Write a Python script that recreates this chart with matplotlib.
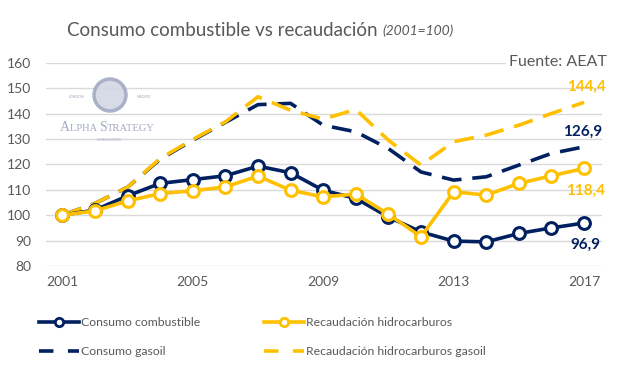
import matplotlib
matplotlib.use("Agg")
import matplotlib.pyplot as plt
from matplotlib.lines import Line2D
from matplotlib.patches import Ellipse

years = list(range(2001, 2018))
consumo_combustible = [100, 102, 107.6, 112.5, 114, 115.5, 119.3, 116.7, 109.8, 106.6,
                       99.3, 93.4, 89.8, 89.5, 92.8, 95, 96.9]
recaudacion_hidro = [100, 101.7, 105.6, 108.5, 109.6, 111.1, 115.4, 109.8, 107.2, 108.3,
                     100.4, 91.5, 109.2, 107.9, 112.5, 115.5, 118.4]
consumo_gasoil = [100, 104.6, 111, 122, 129.5, 136.5, 143.5, 144, 135.4, 132.8,
                  126.2, 117, 113.8, 115.1, 119.7, 124.3, 126.9]
recaudacion_gasoil = [100, 104.6, 111, 122.3, 129.8, 136.7, 146.6, 141.3, 137.8, 141.6,
                      129.5, 119.7, 128.9, 131.5, 135.4, 140, 144.4]
xticks = [2001, 2005, 2009, 2013, 2017]
yticks = [80, 90, 100, 110, 120, 130, 140, 150, 160]

NAVY = "#002060"
GOLD = "#FFC000"
GRAY = "#595959"
FONT = "Lato"
plt.rcParams["font.family"] = [FONT, "DejaVu Sans"]

W, H = 620, 369
fig = plt.figure(figsize=(6.2, 3.69), dpi=100)
ax = fig.add_axes([46/W, 1-266/H, (602-46)/W, (266-62.7)/H])
ax.set_xlim(2000.5, 2017.55)
ax.set_ylim(80, 160)

for y in yticks:
    ax.axhline(y, color="#d9d9d9", lw=1.0, zorder=0)

dash = (5.5, 3)
ax.plot(years, consumo_gasoil, color=NAVY, lw=2.6, dashes=dash, zorder=2)
ax.plot(years, recaudacion_gasoil, color=GOLD, lw=2.6, dashes=dash, zorder=2)
mk = dict(marker="o", markersize=8.5, markerfacecolor="white", markeredgewidth=2.2)
ax.plot(years, consumo_combustible, color=NAVY, lw=2.6, markeredgecolor=NAVY, zorder=3, **mk)
ax.plot(years, recaudacion_hidro, color=GOLD, lw=2.6, markeredgecolor=GOLD, zorder=4, **mk)

for s in ax.spines.values():
    s.set_visible(False)
ax.set_xticks(xticks)
ax.set_xticklabels([str(x) for x in xticks])
ax.set_yticks(yticks)
ax.tick_params(axis="y", length=0, labelsize=10, colors=GRAY, pad=10.5)
ax.tick_params(axis="x", length=0, labelsize=10, colors=GRAY, pad=7)

# end value labels
lab = dict(ha="center", va="center", fontsize=11, fontweight="bold", textcoords="offset points")
ax.annotate("144,4", (years[-1], recaudacion_gasoil[-1]), xytext=(2, 11), color=GOLD, **lab)
ax.annotate("126,9", (years[-1], consumo_gasoil[-1]), xytext=(-1, 11), color=NAVY, **lab)
ax.annotate("118,4", (years[-1], recaudacion_hidro[-1]), xytext=(1, -16), color=GOLD, **lab)
ax.annotate("96,9", (years[-1], consumo_combustible[-1]), xytext=(1, -16), color=NAVY, **lab)

# source
fig.text(607/W, 1-62/H, "Fuente: AEAT", ha="right", va="center", fontsize=11.5, color=GRAY,
         bbox=dict(facecolor="white", edgecolor="none", pad=2))

# title
t = fig.text(67/W, 1-30/H, "Consumo combustible vs recaudación ", ha="left", va="center",
             fontsize=13.5, color=GRAY)
fig.canvas.draw()
bb = t.get_window_extent()
fig.text(bb.x1/W, 1-31/H, "(2001=100)", ha="left", va="center", fontsize=10,
         color=GRAY, style="italic")

# watermark
logo_c = "#a3aac3"
fig.patches.append(Ellipse((110/W, 1-95/H), 32/W, 32/H, transform=fig.transFigure,
                           facecolor="#d3d7e3", edgecolor=logo_c, lw=2.5, alpha=0.9))
x = 60
fig.canvas.draw()
rend = fig.canvas.get_renderer()
for chunk, fs in [("A", 10), ("LPHA ", 7.6), ("S", 10), ("TRATEGY", 7.6)]:
    tt = fig.text(x/W, 1-131/H, chunk, ha="left", va="baseline", fontsize=fs,
                  color=logo_c, family="Liberation Serif")
    x = tt.get_window_extent(rend).x1
fig.text(110/W, 1-140/H, "CONSULTING", ha="center", va="center", fontsize=3,
         color=logo_c, family="Liberation Serif")
fig.text(76/W, 1-97/H, "LONDON", ha="center", va="center", fontsize=2.5, color=logo_c)
fig.text(144/W, 1-97/H, "MADRID", ha="center", va="center", fontsize=2.5, color=logo_c)

# legend
handles = [
    Line2D([], [], color=NAVY, lw=2.6, marker="o", markersize=6, markerfacecolor="white",
           markeredgecolor=NAVY, markeredgewidth=2),
    Line2D([], [], color=NAVY, lw=2.6, dashes=(4, 4)),
    Line2D([], [], color=GOLD, lw=2.6, marker="o", markersize=6, markerfacecolor="white",
           markeredgecolor=GOLD, markeredgewidth=2),
    Line2D([], [], color=GOLD, lw=2.6, dashes=(4, 4)),
]
labels = ["Consumo combustible", "Consumo gasoil", "Recaudación hidrocarburos",
          "Recaudación hidrocarburos gasoil"]
leg = fig.legend(handles, labels, ncol=2, loc="center left", bbox_to_anchor=(28/W, 1-337/H),
                 frameon=False, fontsize=8.8, handlelength=3.3, handletextpad=0.15,
                 columnspacing=5.2, labelspacing=1.5)
for txt in leg.get_texts():
    txt.set_color(GRAY)

fig.savefig("out.png", dpi=100)
